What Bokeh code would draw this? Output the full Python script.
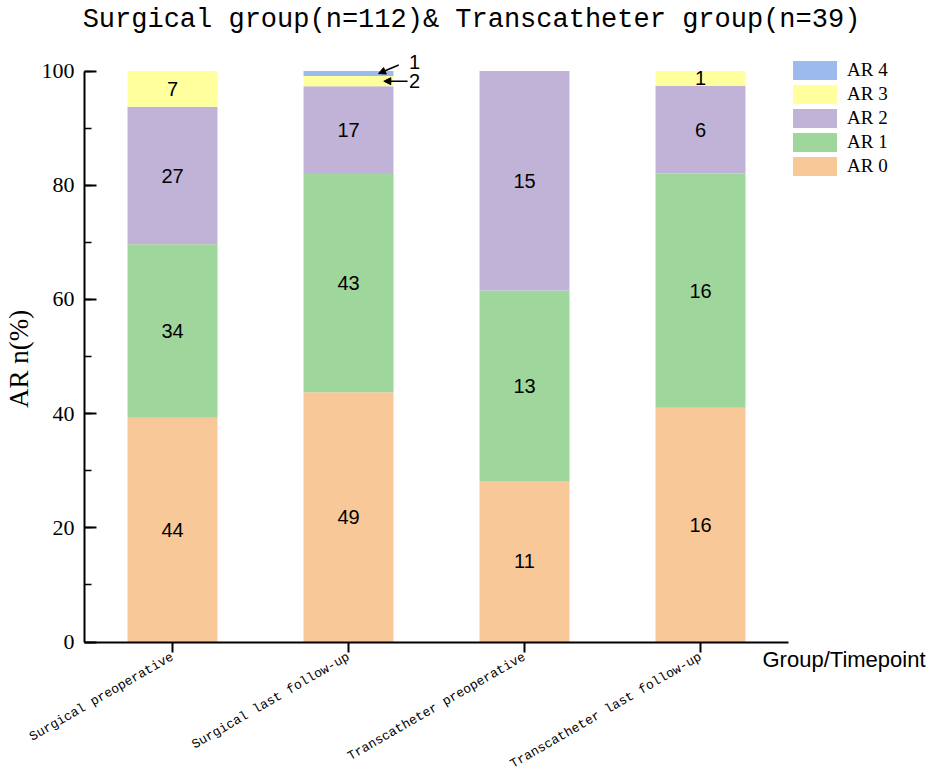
import math
from bokeh.plotting import figure
from bokeh.models import (ColumnDataSource, Legend, LegendItem, Label, Arrow,
                          NormalHead, FixedTicker, SingleIntervalTicker, Range1d)
from bokeh.embed import file_html
from bokeh.resources import INLINE
from bokeh.core.properties import value

# ---------------- data ----------------
groups = ["Surgical preoperative", "Surgical last follow-up",
          "Transcatheter preoperative", "Transcatheter last follow-up"]
totals = [112, 112, 39, 39]
ar0 = [44, 49, 11, 16]
ar1 = [34, 43, 13, 16]
ar2 = [27, 17, 15, 6]
ar3 = [7, 2, 0, 1]
ar4 = [0, 1, 0, 0]
grades = ["AR 0", "AR 1", "AR 2", "AR 3", "AR 4"]
colors = ["#F9C899", "#9ED69C", "#C0B3D7", "#FFFF9E", "#9DBAEE"]
y_ticks = [0, 20, 40, 60, 80, 100]
title_text = "Surgical group(n=112)& Transcatheter group(n=39)"
x_title = "Group/Timepoint"
y_title = "AR n(%)"

counts = [ar0, ar1, ar2, ar3, ar4]
keys = ["ar0", "ar1", "ar2", "ar3", "ar4"]
xs = list(range(len(groups)))
pct = [[c / t * 100 for c, t in zip(row, totals)] for row in counts]

data = {"x": xs}
for k, row in zip(keys, pct):
    data[k] = row
src = ColumnDataSource(data)

W, H = 944, 774
BAR_W = 0.511
PX_X = 176.0      # pixels per category
PX_Y = 5.71       # pixels per percent
X0, Y0 = 172.0, 641.5   # pixel position of (0, 0)

p = figure(width=W, height=H, output_backend="svg", toolbar_location=None,
           x_range=Range1d(-X0 / PX_X, (W - X0) / PX_X),
           y_range=Range1d((Y0 - H) / PX_Y, Y0 / PX_Y),
           min_border=0, min_border_left=0, min_border_right=0,
           min_border_top=0, min_border_bottom=0)
p.outline_line_color = None
p.xgrid.grid_line_color = None
p.ygrid.grid_line_color = None
p.background_fill_color = "white"
p.border_fill_color = "white"

rs = p.vbar_stack(keys, x="x", width=BAR_W, color=colors, line_color=None,
                  source=src)

# value labels inside segments / arrows for tiny segments
lx, ly, lt = [], [], []
small = []
for i in xs:
    base = 0.0
    for k in range(len(keys)):
        v = pct[k][i]
        if counts[k][i] > 0:
            mid = base + v / 2
            if v < 2.0:
                small.append((i, k, mid, counts[k][i]))
            else:
                lx.append(i); ly.append(mid); lt.append(str(counts[k][i]))
        base += v
p.text(x=lx, y=ly, text=lt, text_align="center", text_baseline="middle",
       text_font=value("Liberation Sans"), text_font_size="20px",
       text_color="black")

# arrows for tiny segments (layout offsets relative to bar right edge)
for (i, k, mid, c) in small:
    right = i + BAR_W / 2
    if k == 4:
        hx, hy, tx, ty, tlx, tly = right - 0.085, mid, right + 0.03, mid + 1.5, right + 0.12, mid + 2.05
    else:
        hx, hy, tx, ty, tlx, tly = right - 0.055, mid, right + 0.08, mid, right + 0.12, mid
    p.add_layout(Arrow(end=NormalHead(size=7, fill_color="black", line_color="black"),
                       x_start=tx, y_start=ty, x_end=hx, y_end=hy,
                       line_color="black", line_width=1.5))
    p.add_layout(Label(x=tlx, y=tly, text=str(c), text_align="center",
                       text_baseline="middle", text_font="Liberation Sans",
                       text_font_size="20px", text_color="black"))

# axes (fixed inside the full-canvas frame)
ya = p.yaxis[0]
ya.fixed_location = -0.5
ya.ticker = SingleIntervalTicker(interval=20, num_minor_ticks=2)
ya.bounds = (0, 100)
ya.axis_line_width = 2
ya.major_tick_line_width = 2
ya.minor_tick_line_width = 1.5
ya.major_tick_in = 12
ya.major_tick_out = 0
ya.minor_tick_in = 7
ya.minor_tick_out = 0
ya.major_label_standoff = 10
ya.major_label_text_font = "Liberation Serif"
ya.major_label_text_font_size = "22px"
ya.major_label_text_color = "black"

xa = p.xaxis[0]
xa.fixed_location = 0
xa.ticker = FixedTicker(ticks=xs)
xa.bounds = (-0.5, 3.5)
xa.axis_line_width = 2
xa.major_tick_line_width = 2
xa.major_tick_in = 0
xa.major_tick_out = 10
xa.minor_tick_line_color = None
xa.major_label_overrides = {i: g for i, g in zip(xs, groups)}
xa.major_label_orientation = math.pi / 6
xa.major_label_standoff = 4
xa.major_label_text_font = "Liberation Mono"
xa.major_label_text_font_size = "13px"
xa.major_label_text_color = "black"

# y axis title
p.add_layout(Label(x=-0.5, y=49.6, text=y_title, x_offset=-66, angle=math.pi / 2,
                   text_align="center", text_baseline="middle",
                   text_font="Liberation Serif", text_font_size="27px",
                   text_color="black"))

# x axis title
p.add_layout(Label(x=3.5, y=0, text=x_title, x_offset=-26, y_offset=-17,
                   text_align="left", text_baseline="middle",
                   text_font="Liberation Sans", text_font_size="22px",
                   text_color="black"))

# chart title
p.add_layout(Label(x=1.5, y=100, text=title_text, x_offset=35, y_offset=51,
                   text_align="center", text_baseline="middle",
                   text_font="Liberation Mono", text_font_size="27px",
                   text_color="black"))

items = [LegendItem(label=grades[k], renderers=[rs[k]]) for k in reversed(range(len(grades)))]
legend = Legend(items=items, location=(787, 596), orientation="vertical",
                glyph_width=55, glyph_height=24, label_height=24, spacing=0,
                padding=0, margin=0, border_line_color=None,
                background_fill_alpha=0, label_standoff=5,
                label_text_font="Liberation Serif", label_text_font_size="19px",
                label_text_color="black")
p.add_layout(legend)

open("out.html", "w").write(file_html(p, INLINE))
